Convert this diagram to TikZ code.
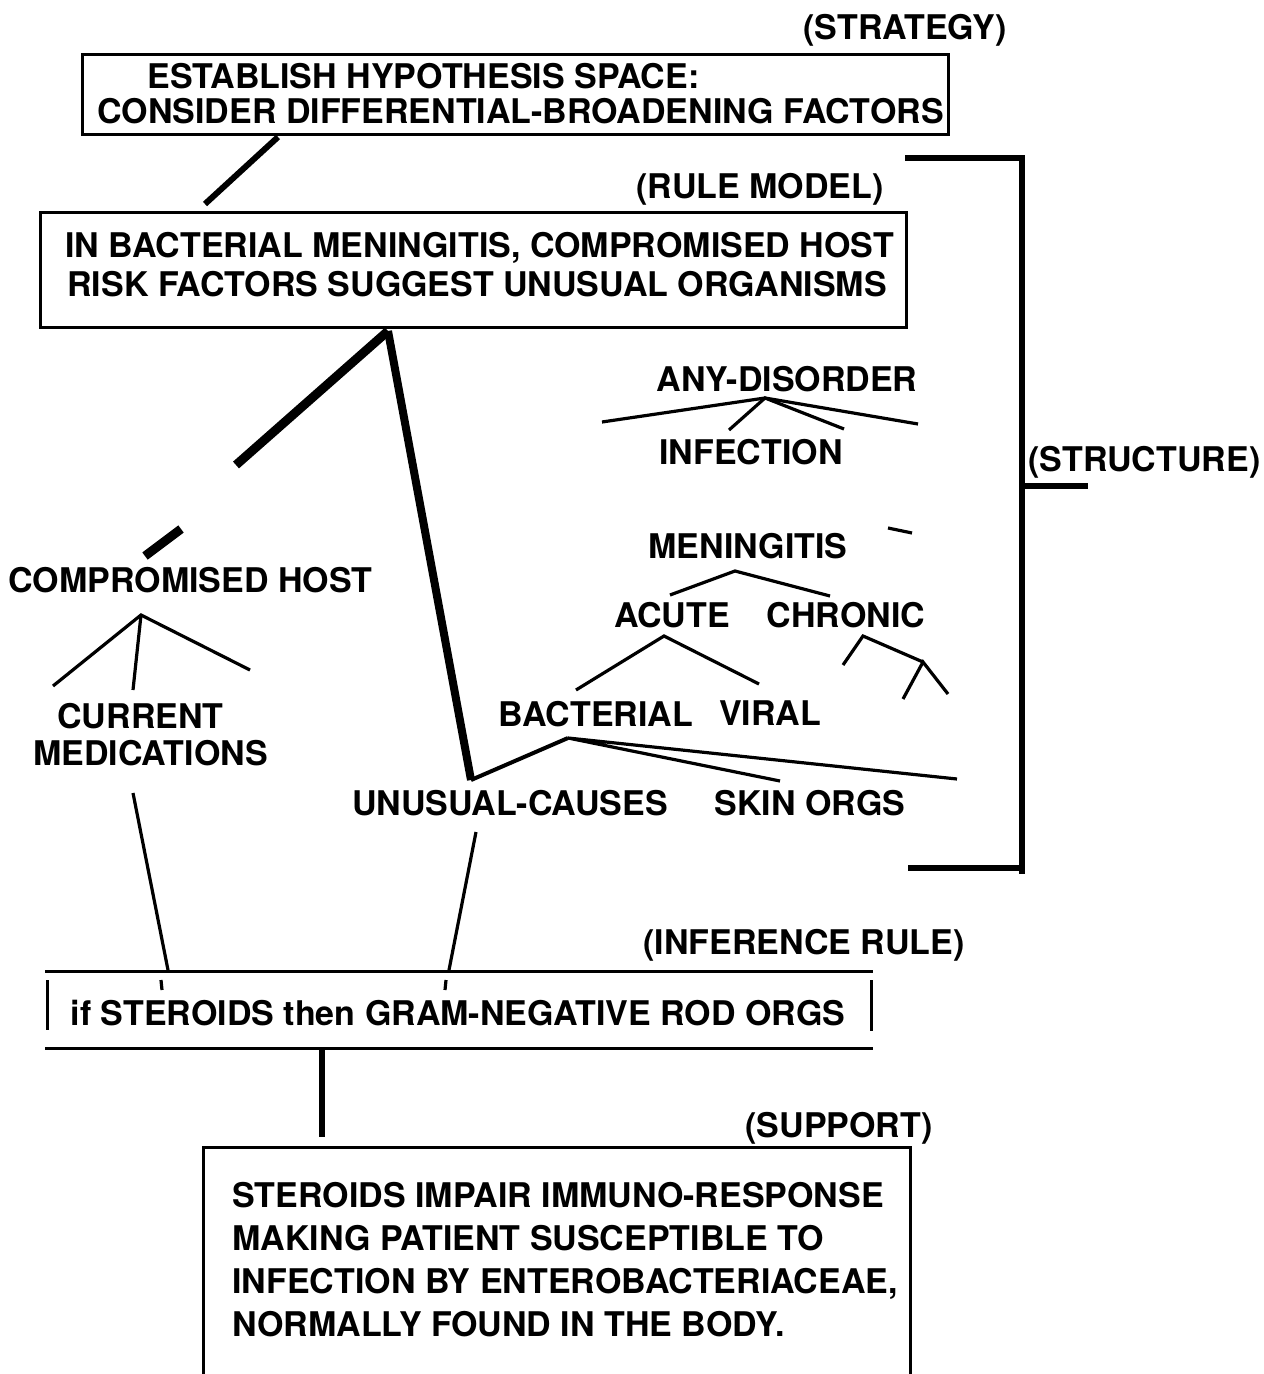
\documentclass[tikz,border=0pt]{standalone}
\usepackage{fontspec}
\setmainfont{TeX Gyre Heros}

\begin{document}
\begin{tikzpicture}[x=0.5pt,y=-0.5pt,
  word/.style={inner sep=0pt,anchor=base,font=\fontsize{17}{20}\selectfont\bfseries},
  lword/.style={word,anchor=base west},
  frame/.style={draw,line width=1.5pt,inner sep=0pt},
  twig/.style={line width=1.6pt},
  limb/.style={line width=4.5pt},
  bar/.style={line width=3pt}]

\useasboundingbox (0,0) rectangle (1263,1374);

% strategy
\node[word] (strategy) at (905,40) {(STRATEGY)};
\node[frame,minimum width=433pt,minimum height=40pt] (space) at (515,95) {};
\node[lword] (space1) at (147,89) {ESTABLISH HYPOTHESIS SPACE:};
\node[lword] (space2) at (97,124) {CONSIDER DIFFERENTIAL-BROADENING FACTORS};

% rule model
\node[word] (rulemodel) at (760,199) {(RULE MODEL)};
\node[frame,minimum width=433pt,minimum height=57.5pt] (model) at (473,270.5) {};
\node[lword] (model1) at (65,258) {IN BACTERIAL MENINGITIS, COMPROMISED HOST};
\node[lword] (model2) at (67,297) {RISK FACTORS SUGGEST UNUSUAL ORGANISMS};

\coordinate (spacefoot) at (278,137);
\coordinate (modeltop) at (205,204);
\draw[bar] (spacefoot) -- (modeltop);

% structure
\node[word] (anydis) at (787,391) {ANY-DISORDER};
\node[word] (infection) at (751,464) {INFECTION};
\node[word] (mening) at (748,558) {MENINGITIS};
\node[word] (acute) at (672,627) {ACUTE};
\node[word] (chronic) at (846,627) {CHRONIC};
\node[word] (bact) at (596,726) {BACTERIAL};
\node[word] (viral) at (770,725) {VIRAL};
\node[word] (unusual) at (510,815) {UNUSUAL-CAUSES};
\node[word] (skin) at (810,815) {SKIN ORGS};
\node[lword] (comphost) at (8,592) {COMPROMISED HOST};
\node[lword] (current) at (57,728) {CURRENT};
\node[lword] (medic) at (33,765) {MEDICATIONS};
\node[lword] (structure) at (1028,471) {(STRUCTURE)};

\coordinate (adroot) at (765,398);
\draw[twig] (602,422) -- (adroot) -- (918,424);
\draw[twig] (729,430) -- (adroot) -- (844,429);

\coordinate (menroot) at (735,571);
\draw[twig] (670,595) -- (menroot) -- (830,596);
\draw[twig] (888,528) -- (912,533);

\coordinate (acroot) at (664,636);
\draw[twig] (576,690) -- (acroot) -- (759,684);

\coordinate (chroot) at (863,636);
\coordinate (chfork) at (923,662);
\draw[twig] (843,665) -- (chroot) -- (chfork);
\draw[twig] (903,699) -- (chfork) -- (948,694);

\coordinate (baroot) at (568,738);
\coordinate (bend) at (471,780);
\draw[twig] (780,781) -- (baroot) -- (957,779);

\coordinate (chroot2) at (141,615);
\draw[twig] (53,686) -- (chroot2) -- (250,670);
\draw[twig] (chroot2) -- (133,690);

\coordinate (modelfoot) at (388,331);
\draw[limb,line cap=butt] (modelfoot) -- (236,465);
\draw[limb] (181,529) -- (145,556);
\draw[bar,line width=4pt] (modelfoot) -- (bend);
\draw[bar,line width=2pt] (bend) -- (baroot);

\draw[bar] (905,158) -- (1022,158) -- (1022,874);
\draw[bar] (908,868) -- (1022,868);
\draw[bar] (1022,486) -- (1088,486);

% inference rule
\node[word] (inferlab) at (804,954) {(INFERENCE RULE)};
\node[minimum width=413.5pt,minimum height=38pt,inner sep=0pt] (infer) at (459,1010) {};
\node[word] (infertxt) at (458,1025) {if STEROIDS then GRAM-NEGATIVE ROD ORGS};
\draw[frame] (infer.north west) -- (infer.north east);
\draw[frame] (infer.south west) -- (infer.south east);
\draw[frame] (47,980) -- (47,1030);
\draw[frame] (871,980) -- (871,1031);

\coordinate (medfoot) at (133,793);
\coordinate (unfoot) at (476,832);
\draw[twig] (medfoot) -- (168,970);
\draw[twig] (161,980) -- (162,990);
\draw[twig] (unfoot) -- (449,970);
\draw[twig] (446,980) -- (445,990);

% support
\node[word] (supportlab) at (839,1137) {(SUPPORT)};
\coordinate (inferfoot) at (322,1050);
\coordinate (supporttop) at (322,1137);
\draw[bar] (inferfoot) -- (supporttop);
\draw[frame] (203,1374) -- (203,1147) -- (910,1147) -- (910,1374);
\node[lword] (sup1) at (232,1207) {STEROIDS IMPAIR IMMUNO-RESPONSE};
\node[lword] (sup2) at (232,1250) {MAKING PATIENT SUSCEPTIBLE TO};
\node[lword] (sup3) at (232,1293) {INFECTION BY ENTEROBACTERIACEAE,};
\node[lword] (sup4) at (232,1336) {NORMALLY FOUND IN THE BODY.};

\end{tikzpicture}
\end{document}
